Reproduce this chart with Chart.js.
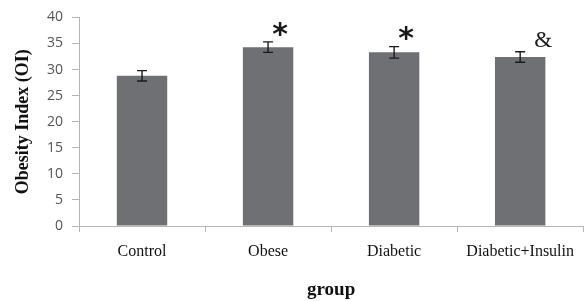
<!DOCTYPE html>
<html><head><meta charset="utf-8">
<script src="https://cdn.jsdelivr.net/npm/chart.js@4/dist/chart.umd.min.js"></script>
<style>html,body{margin:0;padding:0;background:#fff;overflow:hidden}#wrap{width:584px;height:301px;position:relative}</style>
</head><body><div id="wrap"><canvas id="c" width="584" height="301"></canvas></div>
<script>
const categories = ["Control", "Obese", "Diabetic", "Diabetic+Insulin"];
const means = [28.8, 34.3, 33.3, 32.4];
const errors = [1.0, 1.0, 1.1, 1.0];
const marks = ["", "*", "*", "&"];
const yTicks = [0, 5, 10, 15, 20, 25, 30, 35, 40];

const errorBarPlugin = {
  id: 'errbars',
  afterDatasetsDraw(chart) {
    const ctx = chart.ctx, x = chart.scales.x, y = chart.scales.y;
    ctx.save();
    ctx.strokeStyle = '#1a1a1a'; ctx.lineWidth = 1.4;
    means.forEach((m, i) => {
      const px = x.getPixelForValue(i);
      const top = y.getPixelForValue(m + errors[i]);
      const bot = y.getPixelForValue(m - errors[i]);
      ctx.beginPath();
      ctx.moveTo(px, top); ctx.lineTo(px, bot);
      ctx.moveTo(px - 5, top); ctx.lineTo(px + 5, top);
      ctx.moveTo(px - 5, bot); ctx.lineTo(px + 5, bot);
      ctx.stroke();
      if (marks[i]) {
        ctx.fillStyle = '#1a1a1a';
        ctx.textAlign = 'center'; ctx.textBaseline = 'middle';
        if (marks[i] === '*') {
          ctx.font = 'bold 30px "DejaVu Sans"';
          ctx.fillText(marks[i], px + 12, top - 6);
        } else {
          ctx.font = '23px "Liberation Serif"';
          ctx.fillText(marks[i], px + 23, top - 11);
        }
      }
    });
    ctx.restore();
  }
};

new Chart(document.getElementById('c'), {
  type: 'bar',
  data: {
    labels: categories,
    datasets: [{ data: means, backgroundColor: '#6f7074', borderWidth: 0, categoryPercentage: 1, barPercentage: 0.4 }]
  },
  options: {
    responsive: false, animation: false,
    layout: { padding: { top: 12, right: 0, left: 0, bottom: 0 } },
    plugins: { legend: { display: false }, tooltip: { enabled: false } },
    scales: {
      x: {
        grid: { offset: true, drawOnChartArea: false, drawTicks: true, tickLength: 6, color: '#b5b5b5' },
        border: { color: '#b5b5b5' },
        ticks: { color: '#111', font: { family: '"Liberation Serif"', size: 16 }, padding: 10, maxRotation: 0 },
        title: { display: true, text: 'group', color: '#111', font: { family: '"Liberation Serif"', size: 19, weight: 'bold' }, padding: { top: 0, bottom: 0 } },
        afterFit(s) { s.height = 75; }
      },
      y: {
        min: 0, max: 40,
        afterBuildTicks(s) { s.ticks = yTicks.map(v => ({ value: v })); },
        grid: { drawOnChartArea: false, drawTicks: true, tickLength: 7, color: '#b5b5b5' },
        border: { color: '#b5b5b5' },
        ticks: { color: '#555', font: { family: '"Open Sans"', size: 14 }, padding: 9 },
        title: { display: true, text: 'Obesity Index (OI)', color: '#111', font: { family: '"Liberation Serif"', size: 18, weight: 'bold' }, padding: { top: 13, bottom: 0 } },
        afterFit(s) { s.width = 79; }
      }
    }
  },
  plugins: [errorBarPlugin]
});
</script></body></html>
